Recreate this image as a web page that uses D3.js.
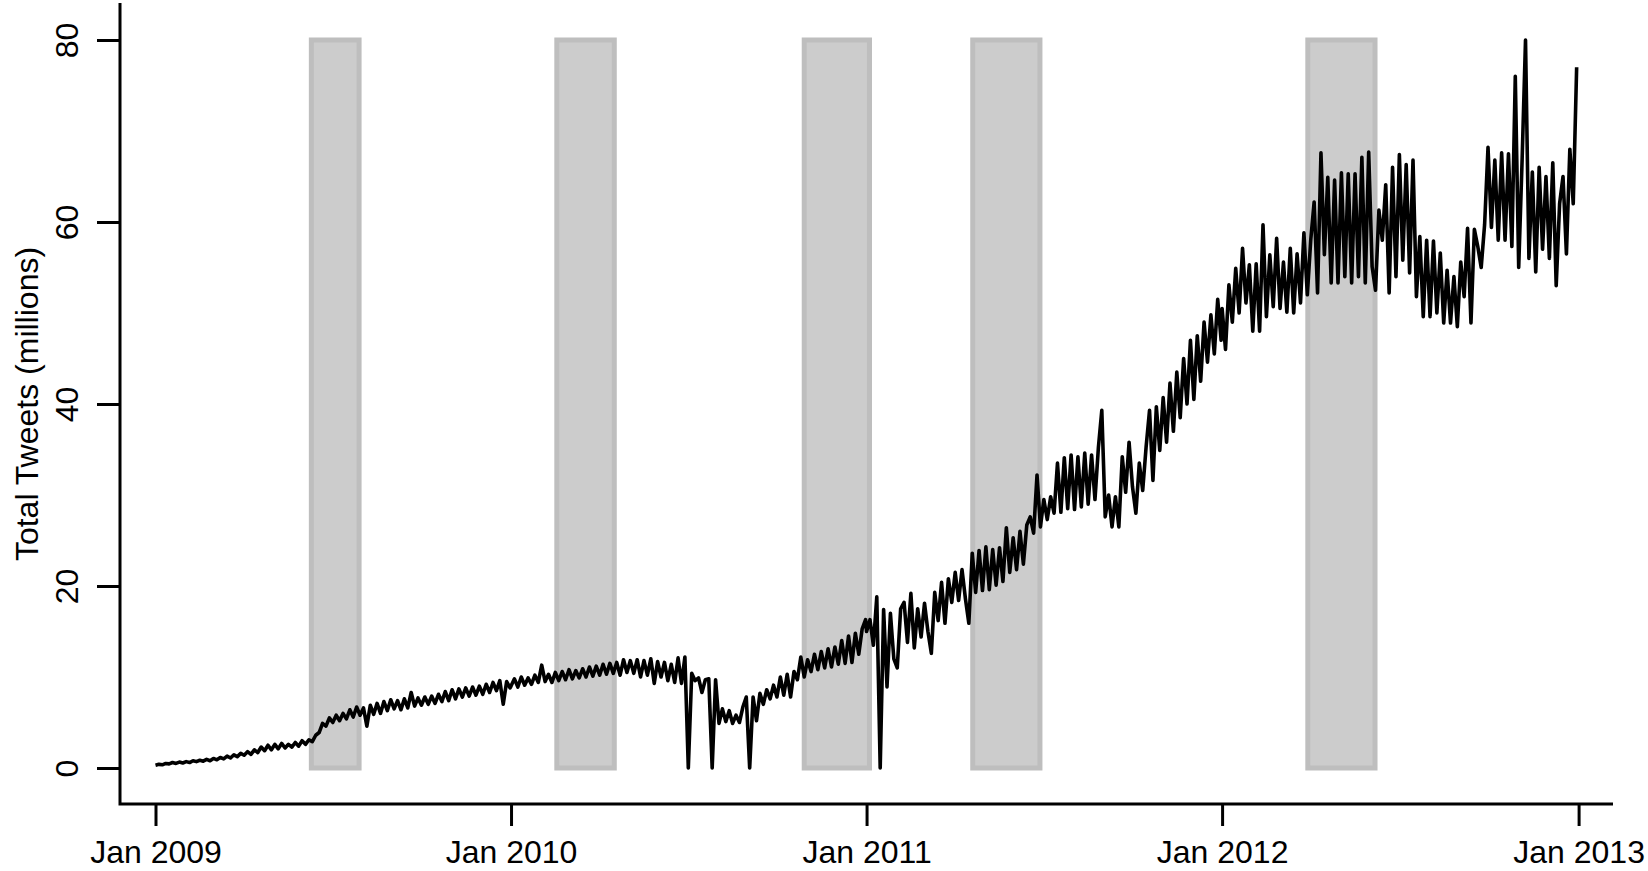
<!DOCTYPE html>
<html>
<head>
<meta charset="utf-8">
<script src="https://cdn.jsdelivr.net/npm/d3@7"></script>
<style>
  html, body { margin: 0; padding: 0; background: #fff; }
  #chart { width: 1648px; height: 871px; }
  text { font-family: "Liberation Sans", Arial, Helvetica, sans-serif; fill: #000; }
</style>
</head>
<body>
<div id="chart"></div>
<script>
// total tweets per day (millions), read off the picture twice a week:
// a weekday high, then a weekend low, starting from Jan 1 of each year
const tweets2009 = [
    0.3, 0.4, 0.35, 0.5, 0.45, 0.6, 0.5, 0.65, 0.55, 0.7,
    0.6, 0.8, 0.7, 0.85, 0.75, 0.95, 0.8, 1.05, 0.9, 1.15,
    1.0, 1.3, 1.1, 1.45, 1.25, 1.6, 1.4, 1.8, 1.5, 2.0,
    1.7, 2.3, 1.9, 2.5, 2.0, 2.6, 2.1, 2.7, 2.2, 2.6,
    2.3, 2.8, 2.4, 3.0, 2.6, 3.1, 2.9, 3.6, 3.9, 4.9,
    4.6, 5.5, 5.0, 5.8, 5.2, 6.0, 5.4, 6.4, 5.6, 6.7,
    5.8, 6.6, 4.6, 6.9, 5.9, 7.1, 6.0, 7.3, 6.3, 7.5,
    6.5, 7.4, 6.4, 7.6, 6.6, 8.3, 6.8, 7.7, 6.9, 7.8,
    7.0, 7.9, 7.1, 8.1, 7.3, 8.4, 7.4, 8.6, 7.6, 8.7,
    7.8, 8.8, 7.9, 8.9, 8.0, 9.0, 8.1, 9.2, 8.3, 9.4,
    8.5, 9.6, 7.0, 9.5, 8.8
];
const tweets2010 = [
    9.0, 9.8, 8.9, 10.0, 9.1, 9.9, 9.2, 10.2, 9.4, 11.3,
    9.5, 10.3, 9.4, 10.5, 9.6, 10.6, 9.7, 10.8, 9.8, 10.7,
    9.9, 10.9, 10.0, 11.1, 10.1, 11.2, 10.2, 11.4, 10.3, 11.5,
    10.4, 11.6, 10.2, 11.9, 10.5, 11.8, 10.4, 11.9, 10.0, 11.8,
    10.2, 12.0, 9.3, 11.7, 10.0, 11.6, 9.6, 11.4, 9.4, 12.1,
    9.3, 12.2, 0.0, 10.4, 9.6, 9.9, 8.3, 9.7, 9.8, 0.0,
    9.7, 4.9, 6.5, 5.1, 6.3, 4.9, 5.8, 5.0, 6.7, 7.8,
    0.0, 7.8, 5.2, 8.2, 7.0, 8.6, 7.6, 9.1, 7.8, 10.0,
    8.0, 10.3, 7.8, 10.6, 9.7, 12.2, 10.0, 11.9, 10.6, 12.5,
    10.8, 12.8, 11.0, 13.1, 11.1, 13.3, 11.4, 14.0, 11.5, 14.5,
    11.6, 14.8, 12.5, 15.3, 16.3
];
const tweets2011 = [
    15.0, 16.3, 13.5, 18.8, 0.0, 17.4, 8.9, 17.0, 12.0, 11.0,
    17.5, 18.2, 13.8, 19.2, 13.2, 17.5, 14.4, 18.1, 15.0, 12.6,
    19.3, 16.2, 20.4, 15.9, 20.8, 18.2, 21.5, 18.4, 21.8, 18.6,
    15.9, 23.6, 19.3, 23.9, 19.5, 24.3, 19.6, 24.0, 20.1, 24.2,
    20.5, 26.4, 21.5, 25.3, 21.8, 26.0, 22.4, 26.7, 27.6, 25.8,
    32.2, 26.5, 29.5, 27.3, 29.8, 28.0, 33.5, 28.1, 34.1, 28.5,
    34.4, 28.4, 34.2, 28.7, 34.6, 29.0, 34.4, 29.5, 35.2, 39.3,
    27.6, 30.0, 26.5, 29.8, 26.5, 34.2, 30.3, 35.8, 30.9, 28.0,
    33.5, 30.5, 35.3, 39.3, 31.6, 39.7, 34.9, 40.7, 35.8, 42.3,
    37.0, 43.5, 38.5, 45.0, 40.0, 47.0, 40.5, 47.5, 42.5, 49.0,
    44.6, 49.8, 45.5, 51.5, 47.0
];
const tweets2012 = [
    50.5, 46.0, 53.1, 49.0, 54.9, 50.0, 57.1, 51.1, 55.3, 48.0,
    55.4, 48.0, 59.7, 49.6, 56.4, 50.7, 58.2, 50.5, 55.6, 50.1,
    57.1, 50.0, 56.5, 51.1, 58.8, 52.0, 58.0, 62.2, 52.2, 67.6,
    56.4, 64.9, 53.3, 64.6, 53.3, 65.4, 54.0, 65.3, 53.3, 65.3,
    54.0, 67.1, 53.3, 67.7, 55.1, 52.5, 61.3, 58.0, 64.1, 52.2,
    66.0, 54.0, 67.4, 55.8, 66.3, 54.4, 66.8, 51.8, 58.4, 49.6,
    58.0, 49.6, 57.9, 50.0, 56.6, 48.9, 54.7, 48.9, 54.0, 48.5,
    55.6, 51.8, 59.3, 48.9, 59.2, 57.3, 55.0, 59.7, 68.2, 59.4,
    66.8, 58.0, 67.6, 58.0, 67.5, 57.3, 76.0, 55.0, 66.8, 80.0,
    56.0, 65.5, 54.5, 66.0, 57.0, 65.0, 56.0, 66.5, 53.0, 62.0,
    65.0, 56.5, 68.0, 62.0, 77.0
];
const seriesYears = [2009, 2010, 2011, 2012];

// grey bands
const bandStarts = ["2009-06-10", "2010-02-17", "2010-10-29", "2011-04-20", "2012-03-29"];
const bandEnds = ["2009-07-29", "2010-04-17", "2011-01-04", "2011-06-28", "2012-06-06"];

const yTicks = [0, 20, 40, 60, 80];
const xTicks = ["2009-01-01", "2010-01-01", "2011-01-01", "2012-01-01", "2013-01-01"];

const width = 1648;
const height = 871;

const parseDay = d3.timeParse("%Y-%m-%d");

const svg = d3.select("#chart")
    .append("svg")
    .attr("width", width)
    .attr("height", height)
    .attr("viewBox", `0 0 ${width} ${height}`);

const x = d3.scaleTime()
    .domain([parseDay(xTicks[0]), parseDay(xTicks[xTicks.length - 1])])
    .range([155.5, 1578.6]);

const y = d3.scaleLinear()
    .domain([0, 80])
    .range([768, 40]);

// build the series: two readings per week
const allSeries = [tweets2009, tweets2010, tweets2011, tweets2012];
const points = [];
allSeries.forEach((vals, k) => {
    const start = new Date(seriesYears[k], 0, 1);
    vals.forEach((v, i) => {
        points.push({ date: d3.timeHour.offset(start, i * 84), value: v });
    });
});

// bands first, under the line
const bands = bandStarts.map((s, i) => ({ start: parseDay(s), end: parseDay(bandEnds[i]) }));
svg.selectAll(".band")
    .data(bands)
    .enter()
    .append("rect")
    .attr("class", "band")
    .attr("x", d => x(d.start))
    .attr("y", y(80))
    .attr("width", d => x(d.end) - x(d.start))
    .attr("height", y(0) - y(80))
    .attr("fill", "#cccccc")
    .attr("stroke", "#bebebe")
    .attr("stroke-width", 5);

const line = d3.line()
    .x(d => x(d.date))
    .y(d => y(d.value));

svg.append("path")
    .datum(points)
    .attr("d", line)
    .attr("fill", "none")
    .attr("stroke", "#000")
    .attr("stroke-width", 3.6)
    .attr("stroke-linejoin", "round");

// L-shaped frame (left + bottom)
const frameLeft = 120, frameBottom = 804, frameTop = 3, frameRight = 1613;
svg.append("path")
    .attr("d", `M${frameLeft},${frameTop}V${frameBottom}H${frameRight}`)
    .attr("fill", "none")
    .attr("stroke", "#000")
    .attr("stroke-width", 3);

// x axis
const xAxis = d3.axisBottom(x)
    .tickValues(xTicks.map(parseDay))
    .tickFormat(d3.timeFormat("%b %Y"))
    .tickSize(22)
    .tickPadding(14);

const gx = svg.append("g")
    .attr("transform", `translate(0,${frameBottom})`)
    .call(xAxis);
gx.select(".domain").remove();
gx.selectAll(".tick line").attr("stroke", "#000").attr("stroke-width", 3);
gx.selectAll(".tick text")
    .style("font-size", "32px")
    .attr("dy", "0.71em");

// y axis
const yAxis = d3.axisLeft(y)
    .tickValues(yTicks)
    .tickSize(23)
    .tickFormat(d3.format("d"));

const gy = svg.append("g")
    .attr("transform", `translate(${frameLeft},0)`)
    .call(yAxis);
gy.select(".domain").remove();
gy.selectAll(".tick line").attr("stroke", "#000").attr("stroke-width", 3);
gy.selectAll(".tick text")
    .attr("x", 0)
    .attr("dy", 0)
    .attr("transform", "translate(-42,0) rotate(-90)")
    .attr("text-anchor", "middle")
    .style("font-size", "32px");

svg.append("text")
    .attr("transform", `translate(38,404) rotate(-90)`)
    .attr("text-anchor", "middle")
    .style("font-size", "32px")
    .text("Total Tweets (millions)");
</script>
</body>
</html>
